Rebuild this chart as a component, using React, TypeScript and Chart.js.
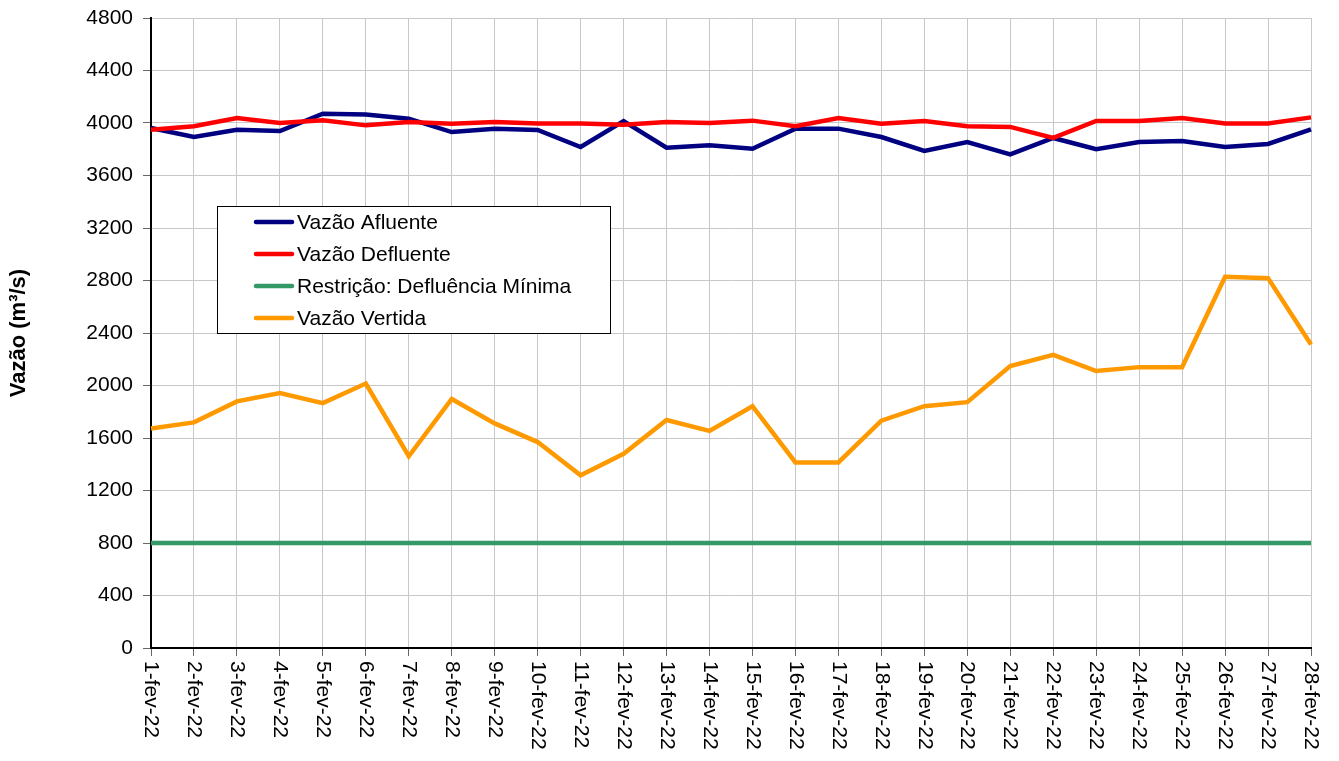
import React, { useEffect, useRef } from "react";
import { Chart, registerables } from "chart.js";

Chart.register(...registerables);

const FONT = '"Liberation Sans", Arial, sans-serif';

const categories = [
  "1-fev-22", "2-fev-22", "3-fev-22", "4-fev-22", "5-fev-22", "6-fev-22", "7-fev-22",
  "8-fev-22", "9-fev-22", "10-fev-22", "11-fev-22", "12-fev-22", "13-fev-22", "14-fev-22",
  "15-fev-22", "16-fev-22", "17-fev-22", "18-fev-22", "19-fev-22", "20-fev-22", "21-fev-22",
  "22-fev-22", "23-fev-22", "24-fev-22", "25-fev-22", "26-fev-22", "27-fev-22", "28-fev-22",
];

const vazaoAfluente = [
  3962, 3893, 3949, 3939, 4071, 4064, 4033, 3931, 3957, 3947, 3817, 4015, 3812, 3830,
  3804, 3957, 3957, 3893, 3787, 3855, 3761, 3886, 3800, 3855, 3863, 3817, 3840, 3952,
];

const vazaoDefluente = [
  3949, 3975, 4038, 4000, 4020, 3982, 4008, 3995, 4008, 3997, 3997, 3987, 4008, 4000,
  4018, 3975, 4038, 3995, 4015, 3975, 3970, 3886, 4015, 4015, 4038, 3997, 3997, 4043,
];

const defluenciaMinima = [
  800, 800, 800, 800, 800, 800, 800, 800, 800, 800, 800, 800, 800, 800,
  800, 800, 800, 800, 800, 800, 800, 800, 800, 800, 800, 800, 800, 800,
];

const vazaoVertida = [
  1672, 1719, 1879, 1943, 1866, 2015, 1461, 1897, 1711, 1569, 1316, 1479, 1737, 1654,
  1842, 1414, 1414, 1732, 1842, 1873, 2148, 2234, 2110, 2140, 2140, 2828, 2818, 2313,
];

const seriesLabels = [
  "Vazão Afluente",
  "Vazão Defluente",
  "Restrição: Defluência Mínima",
  "Vazão Vertida",
];
const seriesColors = ["#000080", "#FF0000", "#339966", "#FF9900"];

const yMin = 0;
const yMax = 4800;
const yStep = 400;
const yTitle = "Vazão (m³/s)";

const customPlugin = {
  id: "customLabelsLegend",
  afterDraw(chart: any) {
    const ctx = chart.ctx;
    const xs = chart.scales.x;
    const area = chart.chartArea;
    ctx.save();
    // rotated x labels reading top-to-bottom
    ctx.font = `21px ${FONT}`;
    ctx.fillStyle = "#000";
    ctx.textAlign = "left";
    ctx.textBaseline = "middle";
    categories.forEach((c, i) => {
      const x = xs.getPixelForTick(i);
      ctx.save();
      ctx.translate(x, area.bottom + 13);
      ctx.rotate(Math.PI / 2);
      ctx.fillText(c, 0, 0);
      ctx.restore();
    });
    // legend box
    const lx = area.left + 66;
    const ly = area.top + 188;
    const w = 393;
    const h = 127;
    ctx.fillStyle = "#fff";
    ctx.fillRect(lx, ly, w, h);
    ctx.strokeStyle = "#000";
    ctx.lineWidth = 1;
    ctx.strokeRect(lx + 0.5, ly + 0.5, w, h);
    chart.data.datasets.forEach((ds: any, i: number) => {
      const cy = ly + 16 + i * 32;
      ctx.strokeStyle = ds.borderColor;
      ctx.lineWidth = 4.5;
      ctx.lineCap = "round";
      ctx.beginPath();
      ctx.moveTo(lx + 39, cy);
      ctx.lineTo(lx + 75, cy);
      ctx.stroke();
      ctx.fillStyle = "#000";
      ctx.font = `21px ${FONT}`;
      ctx.textAlign = "left";
      ctx.textBaseline = "middle";
      ctx.fillText(ds.label, lx + 80, cy + 1);
    });
    ctx.restore();
  },
};

export default function App() {
  const canvasRef = useRef<HTMLCanvasElement | null>(null);

  useEffect(() => {
    if (!canvasRef.current) return;
    const seriesData = [vazaoAfluente, vazaoDefluente, defluenciaMinima, vazaoVertida];
    const chart = new Chart(canvasRef.current, {
      type: "line",
      data: {
        labels: categories,
        datasets: seriesData.map((d, i) => ({
          label: seriesLabels[i],
          data: d,
          borderColor: seriesColors[i],
          backgroundColor: seriesColors[i],
          borderWidth: 4.5,
          pointRadius: 0,
          tension: 0,
          fill: false,
          order: 4 - i,
        })),
      },
      options: {
        animation: false,
        responsive: true,
        maintainAspectRatio: false,
        layout: { padding: { left: 0, right: 28, top: 18, bottom: 0 } },
        plugins: {
          legend: { display: false },
          tooltip: { enabled: false },
        },
        scales: {
          x: {
            type: "category",
            offset: false,
            ticks: { display: false },
            grid: {
              color: "#c8c8c8",
              lineWidth: 1,
              tickColor: "#666",
              tickLength: 8,
            },
            border: { color: "#000", width: 2 },
            afterFit(s: any) {
              s.height = 113;
              s.paddingLeft = 0;
              s.paddingRight = 0;
            },
          },
          y: {
            min: yMin,
            max: yMax,
            ticks: {
              stepSize: yStep,
              color: "#000",
              font: { size: 21, family: FONT },
              padding: 10,
              callback: (v: any) => String(v),
            },
            grid: {
              color: "#c8c8c8",
              lineWidth: 1,
              tickColor: "#666",
              tickLength: 8,
            },
            border: { color: "#000", width: 2 },
            title: {
              display: true,
              text: yTitle,
              color: "#000",
              font: { size: 22, weight: "bold", family: FONT },
              padding: { top: 6, bottom: 0 },
            },
            afterFit(s: any) {
              s.width = 151;
              s.paddingTop = 0;
              s.paddingBottom = 0;
            },
          },
        },
      },
      plugins: [customPlugin],
    });
    return () => chart.destroy();
  }, []);

  return (
    <div style={{ position: "fixed", left: 0, top: 0, width: 1339, height: 761, background: "#fff" }}>
      <canvas ref={canvasRef} />
    </div>
  );
}
